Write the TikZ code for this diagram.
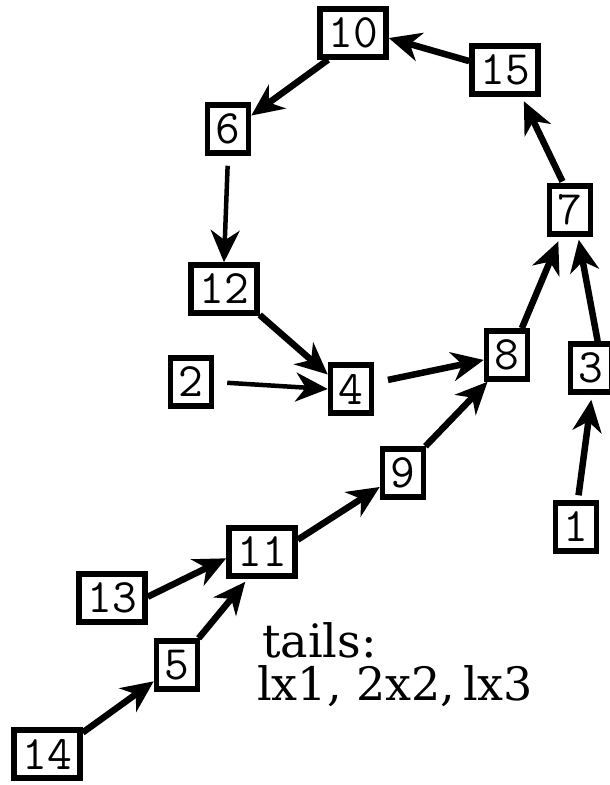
\documentclass[tikz,border=0pt]{standalone}
\usepackage{fontspec}
\newfontfamily\notefont{DejaVu Serif}
\usetikzlibrary{arrows.meta}
\begin{document}
\begin{tikzpicture}[x=1pt,y=-1pt,
  box/.style={draw, line width=5.5pt, inner sep=0pt, minimum width=41pt,
    minimum height=48pt, font=\fontsize{48}{48}\selectfont\ttfamily},
  wide/.style={box, minimum width=66pt},
  link/.style={line width=6.5pt,
    -{Stealth[length=32pt,width=29pt,inset=10pt]}},
  thinlink/.style={link, line width=4.5pt},
  note/.style={anchor=base west, inner sep=0pt,
    font=\notefont\fontsize{46}{46}\selectfont}]
\useasboundingbox (0,0) rectangle (610,785);

% the cycle and its tails
\node[wide] (n10) at (353,33)  {10};
\node[wide] (n15) at (505,70)  {15};
\node[box]  (n6)  at (228,129) {6};
\node[box]  (n7)  at (570,210) {7};
\node[wide] (n12) at (224,289) {12};
\node[box]  (n2)  at (191,382) {2};
\node[box]  (n4)  at (351,389) {4};
\node[box]  (n8)  at (507,355) {8};
\node[box]  (n3)  at (591,368) {3};
\node[box]  (n9)  at (403,473) {9};
\node[box]  (n1)  at (576,527) {1};
\node[wide] (n11) at (262,552) {11};
\node[wide] (n13) at (112,598) {13};
\node[box]  (n5)  at (177,665) {5};
\node[wide] (n14) at (47,754)  {14};

% arrows
\draw[link] (n15.166) -- (n10.-8);
\draw[link] (n10.-133) -- (n6.30);
\draw[thinlink, shorten <=10pt] (n6.south) -- (n12.north);
\draw[link] (n12.-36) -- (n4.148);
\draw[thinlink, shorten <=13pt] (n2.east) -- (n4.west);
\draw[link, shorten <=14pt] (n4.15) -- (n8.192);
\draw[link, shorten >=5pt] (n8.61) -- (n7.-110);
\draw[link, shorten >=3pt] (n3.76) -- (n7.-73);
\draw[link, shorten <=2pt, shorten >=5pt] (n7.104) -- (n15.-58);
\draw[link, shorten <=5pt, shorten >=5pt] (n1.86) -- (n3.-88);
\draw[link] (n9.50) -- (n8.-126);
\draw[link] (n11.19) -- (n9.211);
\draw[link] (n13.2) -- (n11.190);
\draw[link, shorten >=4pt] (n5.51) -- (n11.-118);
\draw[link] (n14.31) -- (n5.215);

% caption
\node[note] (tl1) at (262,657) {tails:};
\node[note] (tl2) at (257,700) {lx1, 2x2,\,lx3};
\end{tikzpicture}
\end{document}
